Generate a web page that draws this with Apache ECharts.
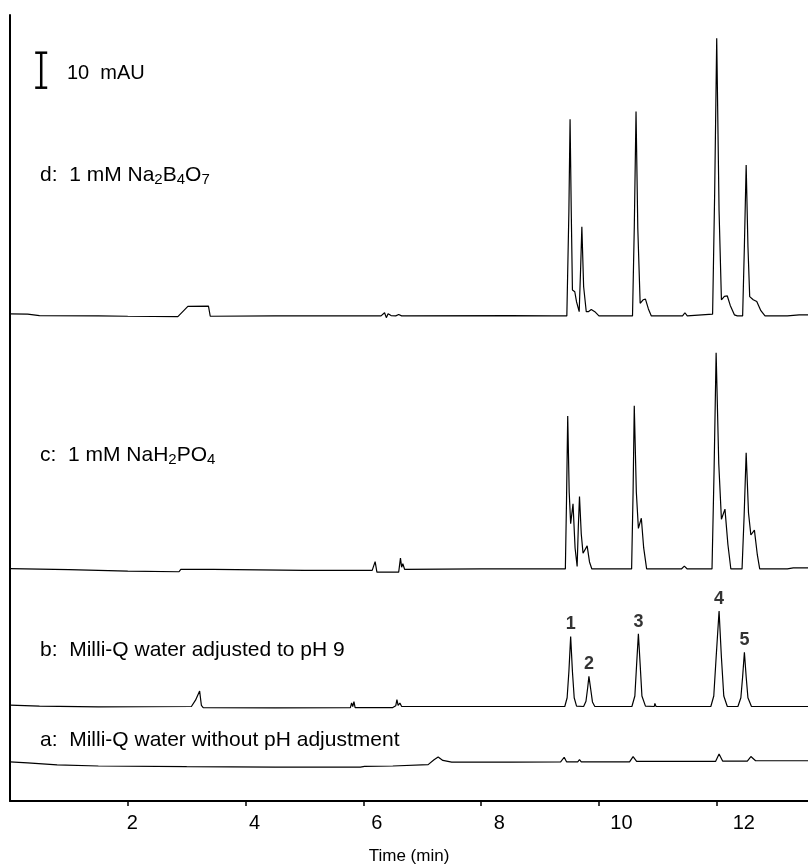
<!DOCTYPE html>
<html>
<head>
<meta charset="utf-8">
<style>
  html, body { margin: 0; padding: 0; background: #fff; }
  #main { width: 808px; height: 864px; }
</style>
<script src="https://cdn.jsdelivr.net/npm/echarts@6/dist/echarts.min.js"></script>
</head>
<body>
<div id="main"></div>
<script>
// electropherograms, [time (min), signal above own baseline (mAU)]
var traceA = [
  [0, 1.2], [0.3, 0.9], [0.8, 0.3], [1.5, 0], [3, -0.2], [4.5, -0.3], [5.95, -0.3], [5.98, -0.8],
  [6.02, -0.1], [6.5, 0], [7.1, 0.4], [7.2, 1.8], [7.27, 2.6], [7.35, 1.6], [7.5, 1.1], [8.5, 1.1],
  [9.35, 1.2], [9.41, 2.5], [9.45, 1.2], [9.64, 1.2], [9.67, 1.8], [9.7, 1.2], [10.52, 1.2],
  [10.58, 2.7], [10.64, 1.3], [11.98, 1.3], [12.04, 3.4], [12.1, 1.4], [12.52, 1.4], [12.58, 2.7],
  [12.66, 1.5], [13.6, 1.5]
];
var traceB = [
  [0, 0.4], [0.5, 0.1], [1.5, -0.1], [3.08, 0], [3.15, 1.8], [3.22, 4.4], [3.25, 0.3], [3.28, -0.3],
  [4.5, -0.4], [5.78, -0.3], [5.8, 1.0], [5.82, 0], [5.84, 1.4], [5.86, -0.3], [6.5, -0.3],
  [6.55, 0.2], [6.57, 2.0], [6.59, 0.3], [6.62, 1.0], [6.65, 0], [8, 0],
  [9.42, 0], [9.46, 2.5], [9.49, 10], [9.52, 20], [9.55, 10], [9.58, 2.5], [9.62, 0.1],
  [9.74, 0], [9.78, 1.5], [9.81, 5.5], [9.83, 8.6], [9.86, 5], [9.89, 1.3], [9.93, 0],
  [10.56, 0], [10.61, 3], [10.64, 12], [10.67, 20.8], [10.70, 12], [10.73, 3], [10.79, 0.1],
  [10.94, 0], [10.95, 0.9], [10.97, 0],
  [11.9, 0], [11.95, 3], [11.99, 14], [12.04, 27.3], [12.08, 14], [12.12, 3], [12.18, 0],
  [12.36, 0], [12.41, 2.5], [12.44, 8.5], [12.47, 15.5], [12.50, 8.5], [12.53, 2.5], [12.59, 0],
  [13.6, 0]
];
var traceC = [
  [0, 0.1], [1, -0.2], [2, -0.6], [2.87, -0.8], [2.9, -0.1], [3.45, -0.1], [3.48, -0.5],
  [5, -0.4], [6.15, -0.4], [6.2, 2.1], [6.23, -0.9], [6.6, -0.9], [6.63, 3.1], [6.65, 0.5],
  [6.67, 1.5], [6.7, -0.1], [8, 0],
  [9.43, 0], [9.45, 20], [9.47, 43.7], [9.495, 22], [9.52, 12.9], [9.56, 18.6], [9.595, 6],
  [9.63, 0.7], [9.65, 12], [9.67, 20.7], [9.70, 10], [9.73, 4.5], [9.80, 6.6], [9.84, 2], [9.88, 0],
  [10.555, 0], [10.58, 22], [10.60, 46.6], [10.635, 22], [10.67, 11.6], [10.72, 14.5], [10.76, 6],
  [10.81, 0], [11.4, 0], [11.45, 0.8], [11.5, 0],
  [11.92, 0], [11.955, 28], [11.99, 61.8], [12.035, 30], [12.08, 14.2], [12.14, 17.1], [12.19, 7],
  [12.24, 0], [12.43, 0], [12.465, 15], [12.50, 33.2], [12.54, 16], [12.58, 9.7], [12.64, 11.1],
  [12.69, 4], [12.73, 0], [13.2, 0], [13.3, 0.3], [13.6, 0.3]
];
var traceD = [
  [0, 0.6], [0.3, 0.5], [0.5, 0.1], [1.5, 0], [2.0, -0.1], [2.85, -0.2], [2.95, 1.5], [3.02, 2.7],
  [3.37, 2.8], [3.4, -0.1], [4.5, 0], [6.3, 0], [6.36, 0.9], [6.39, -0.5], [6.42, 0.6], [6.47, 0.1],
  [6.5, 0.5], [6.55, 0], [6.6, 0.4], [6.65, 0], [8.5, 0.1], [9.2, 0],
  [9.455, 0], [9.49, 30], [9.51, 56.2], [9.53, 30], [9.55, 7.4], [9.59, 6.9], [9.62, 4],
  [9.665, 1.2], [9.69, 14], [9.71, 25.5], [9.74, 8.4], [9.785, 1.2], [9.82, 1.2], [9.87, 1.8],
  [9.93, 1.2], [10.0, 0],
  [10.57, 0], [10.60, 25], [10.63, 58.4], [10.66, 25], [10.70, 3.6], [10.75, 4.6], [10.79, 4.8],
  [10.84, 2], [10.89, 0], [11.42, 0], [11.46, 0.9], [11.5, 0],
  [11.93, 0.5], [11.965, 35], [12.0, 79.3], [12.04, 30], [12.08, 4.6], [12.13, 5.6], [12.18, 5.7],
  [12.23, 3], [12.30, 0.3], [12.35, 0],
  [12.44, 0], [12.47, 20], [12.50, 43.1], [12.53, 20], [12.56, 5.5], [12.62, 4.6], [12.68, 4.1],
  [12.75, 1.5], [12.82, 0], [13.2, 0], [13.4, 0.3], [13.6, 0.3]
];
// baseline of each trace on the common mAU axis: a, b, c, d
var traceOffsets = [10.0, 27.0, 66.3, 138.6];

var peakNumbers = ['1', '2', '3', '4', '5'];
var peakTimes = [9.52, 9.83, 10.67, 12.04, 12.47];
var peakHeights = [20, 8.6, 20.8, 27.3, 15.5];

var tickValues = [2, 4, 6, 8, 10, 12];
var scaleBarTime = 0.53;
var scaleBarBase = 203.8;
var scaleBarLength = 10;

var font = "'Liberation Sans', Arial, sans-serif";

function shift(points, offset) {
  return points.map(function (p) { return [p[0], p[1] + offset]; });
}

function trace(points, offset) {
  return {
    type: 'line',
    data: shift(points, offset),
    showSymbol: false,
    symbol: 'none',
    lineStyle: { color: '#000', width: 1.2 },
    silent: true,
    z: 3
  };
}

var sub = { fontSize: 15, lineHeight: 13, verticalAlign: 'bottom', fontFamily: font, fill: '#000' };
var txt = { fontSize: 21, lineHeight: 24, fontFamily: font, fill: '#000' };
var txtScale = { fontSize: 20, lineHeight: 24, fontFamily: font, fill: '#000' };

function label(x, y, text) {
  return {
    type: 'text',
    x: x,
    y: y,
    style: {
      text: text,
      rich: { n: txt, s: sub, m: txtScale },
      textVerticalAlign: 'middle',
      textAlign: 'left'
    }
  };
}

var chart = echarts.init(document.getElementById('main'), null, { renderer: 'canvas' });
var option = {
  animation: false,
  backgroundColor: '#fff',
  grid: { left: 10, right: 0, top: 15, bottom: 63, containLabel: false, outerBoundsMode: 'none' },
  xAxis: [
    {
      type: 'value',
      min: 0,
      max: 13.55,
      axisLine: { show: true, onZero: false, lineStyle: { color: '#000', width: 2 } },
      axisTick: { show: true, inside: false, length: 5, customValues: tickValues, lineStyle: { color: '#000', width: 1.5 } },
      axisLabel: { show: false },
      splitLine: { show: false }
    },
    {
      type: 'value',
      min: 0,
      max: 13.05,
      position: 'bottom',
      axisLine: { show: false },
      axisTick: { show: false },
      splitLine: { show: false },
      axisLabel: { show: true, customValues: tickValues, margin: 12, fontSize: 20, fontFamily: font, color: '#000' },
      name: 'Time (min)',
      nameLocation: 'middle',
      nameGap: 47,
      nameTextStyle: { fontSize: 17, fontFamily: font, color: '#000' }
    }
  ],
  yAxis: {
    type: 'value',
    min: 0,
    max: 224.57,
    axisLine: { show: true, onZero: false, lineStyle: { color: '#000', width: 2 } },
    axisTick: { show: false },
    axisLabel: { show: false },
    splitLine: { show: false }
  },
  series: [
    trace(traceA, traceOffsets[0]),
    trace(traceB, traceOffsets[1]),
    trace(traceC, traceOffsets[2]),
    trace(traceD, traceOffsets[3]),
    {
      type: 'scatter',
      symbolSize: 0,
      silent: true,
      data: peakTimes.map(function (t, i) { return [t, peakHeights[i] + traceOffsets[1], peakNumbers[i]]; }),
      label: {
        show: true,
        position: 'top',
        distance: 3,
        formatter: function (p) { return p.data[2]; },
        fontSize: 18,
        fontWeight: 'bold',
        fontFamily: font,
        color: '#000'
      }
    },
    {
      type: 'line',
      silent: true,
      data: [[scaleBarTime, scaleBarBase], [scaleBarTime, scaleBarBase + scaleBarLength]],
      symbol: 'rect',
      symbolSize: [12, 2.5],
      showSymbol: true,
      itemStyle: { color: '#000' },
      lineStyle: { color: '#000', width: 2.5 }
    }
  ],
  graphic: [
    label(67, 73, '{m|10  mAU}'),
    label(40, 175, '{n|d:  1 mM Na}{s|2}{n|B}{s|4}{n|O}{s|7}'),
    label(40, 455, '{n|c:  1 mM NaH}{s|2}{n|PO}{s|4}'),
    label(40, 650, '{n|b:  Milli-Q water adjusted to pH 9}'),
    label(40, 740, '{n|a:  Milli-Q water without pH adjustment}')
  ]
};
chart.setOption(option);
</script>
</body>
</html>
